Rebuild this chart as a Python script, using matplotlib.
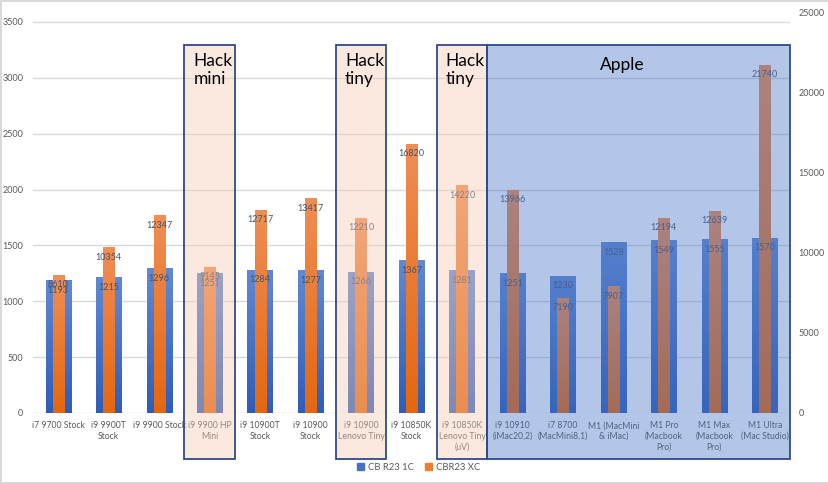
import matplotlib.pyplot as plt
import numpy as np
from matplotlib.colors import LinearSegmentedColormap
from matplotlib.patches import Rectangle
import matplotlib.transforms as mtransforms

plt.rcParams['font.family'] = ['Lato', 'DejaVu Sans']

# data
cats = ["i7 9700 Stock", "i9 9900T\nStock", "i9 9900 Stock", "i9 9900 HP\nMini",
        "i9 10900T\nStock", "i9 10900\nStock", "i9 10900\nLenovo Tiny",
        "i9 10850K\nStock", "i9 10850K\nLenovo Tiny\n(uV)", "i9 10910\n(iMac20,2)",
        "i7 8700\n(MacMini8,1)", "M1 (MacMini\n& iMac)", "M1 Pro\n(Macbook\nPro)",
        "M1 Max\n(Macbook\nPro)", "M1 Ultra\n(Mac Studio)"]
cb_1c = [1193, 1215, 1296, 1251, 1284, 1277, 1266, 1367, 1281, 1251, 1230, 1528, 1549, 1555, 1570]
cb_xc = [8610, 10354, 12347, 9145, 12717, 13417, 12210, 16820, 14220, 13966, 7190, 7907, 12194, 12639, 21740]

# highlight boxes: (first index, last index, label)
groups = [(3, 3, "Hack\nmini"), (6, 6, "Hack\ntiny"), (8, 8, "Hack\ntiny"), (9, 14, "Apple")]

blue = '#4472C4'
orange = '#ED7D31'
blue_cm = LinearSegmentedColormap.from_list('b', ['#2E5DB9', '#6189D2'])
orange_cm = LinearSegmentedColormap.from_list('o', ['#E4670F', '#F08E55'])
lab_col = '#44546A'

fig = plt.figure(figsize=(8.29, 4.83), dpi=100)
fig.patch.set_edgecolor('#D9D9D9')
fig.patch.set_linewidth(2)
ax = fig.add_axes([33/829, 70/483, 757/829, 400/483])
ax2 = ax.twinx()

x = np.arange(len(cats))
grad = np.linspace(0, 1, 256).reshape(-1, 1)

def grad_bars(a, vals, width, cmap, z):
    bars = a.bar(x, vals, width, color='none', zorder=z)
    for b in bars:
        x0, w, h = b.get_x(), b.get_width(), b.get_height()
        im = a.imshow(grad, cmap=cmap, origin='lower', aspect='auto',
                      extent=(x0, x0 + w, 0, h), zorder=z)
        im.set_clip_path(b)
    return bars

b1 = grad_bars(ax, cb_1c, 0.5, blue_cm, 2)
b2 = grad_bars(ax2, cb_xc, 0.22, orange_cm, 2)

# value labels, all on the top axes so they sit above both bar series
for xi, v in zip(x, cb_1c):
    ax2.annotate(str(v), (xi, v), xycoords=ax.transData, xytext=(0, -7.5),
                 textcoords='offset points', ha='center', va='center',
                 fontsize=6.5, color=lab_col, zorder=3)
for xi, v in zip(x, cb_xc):
    ax2.annotate(str(v), (xi, v), xytext=(0, -7), textcoords='offset points',
                 ha='center', va='center', fontsize=6.5, color=lab_col, zorder=3)

ax.set_xlim(-0.5, len(cats) - 0.5)
ax.set_ylim(0, 3580)
ax2.set_ylim(0, 25000)
ax.set_yticks(np.arange(0, 3501, 500))
ax2.set_yticks(np.arange(0, 25001, 5000))
ax.set_xticks(x)
ax.set_xticklabels(cats, fontsize=6.2, color='#595959', linespacing=1.2)
ax.yaxis.grid(True, color='#D9D9D9', linewidth=1)
ax.set_axisbelow(True)
for a in (ax, ax2):
    for s in a.spines.values():
        s.set_visible(False)
    a.tick_params(length=0, labelsize=6.5, labelcolor='#595959')
ax.tick_params(axis='y', pad=7)
ax2.tick_params(axis='y', pad=6)
ax.tick_params(axis='x', pad=6, labelsize=6.2)

# highlight boxes drawn over everything
trans = mtransforms.blended_transform_factory(ax2.transData, ax2.transAxes)
for i0, i1, txt in groups:
    if txt == "Apple":
        fc = (68/255, 114/255, 196/255, 0.4)
    else:
        fc = (245/255, 202/255, 177/255, 0.4)
    r = Rectangle((i0 - 0.5, -0.115), i1 - i0 + 1, 1.035, transform=trans,
                  facecolor=fc, edgecolor='#2F4A8A', linewidth=1.3,
                  clip_on=False, zorder=10)
    ax2.add_patch(r)
    if txt == "Apple":
        ax2.text(11.17, 0.87, txt, transform=trans, ha='center', va='center',
                 fontsize=12.5, color='black', zorder=11)
    else:
        ax2.text(i0 - 0.32, 0.9, txt, transform=trans, ha='left', va='top',
                 fontsize=12.5, color='black', linespacing=1.15, zorder=11)

handles = [Rectangle((0, 0), 1, 1, color=blue), Rectangle((0, 0), 1, 1, color=orange)]
fig.legend(handles, ['CB R23 1C', 'CBR23 XC'], loc='center', bbox_to_anchor=(0.505, 0.033),
           ncol=2, frameon=False, fontsize=6.8, labelcolor='#595959',
           handlelength=0.7, handleheight=0.7, handletextpad=0.4, columnspacing=1.2)

fig.savefig('out.png', dpi=100)
